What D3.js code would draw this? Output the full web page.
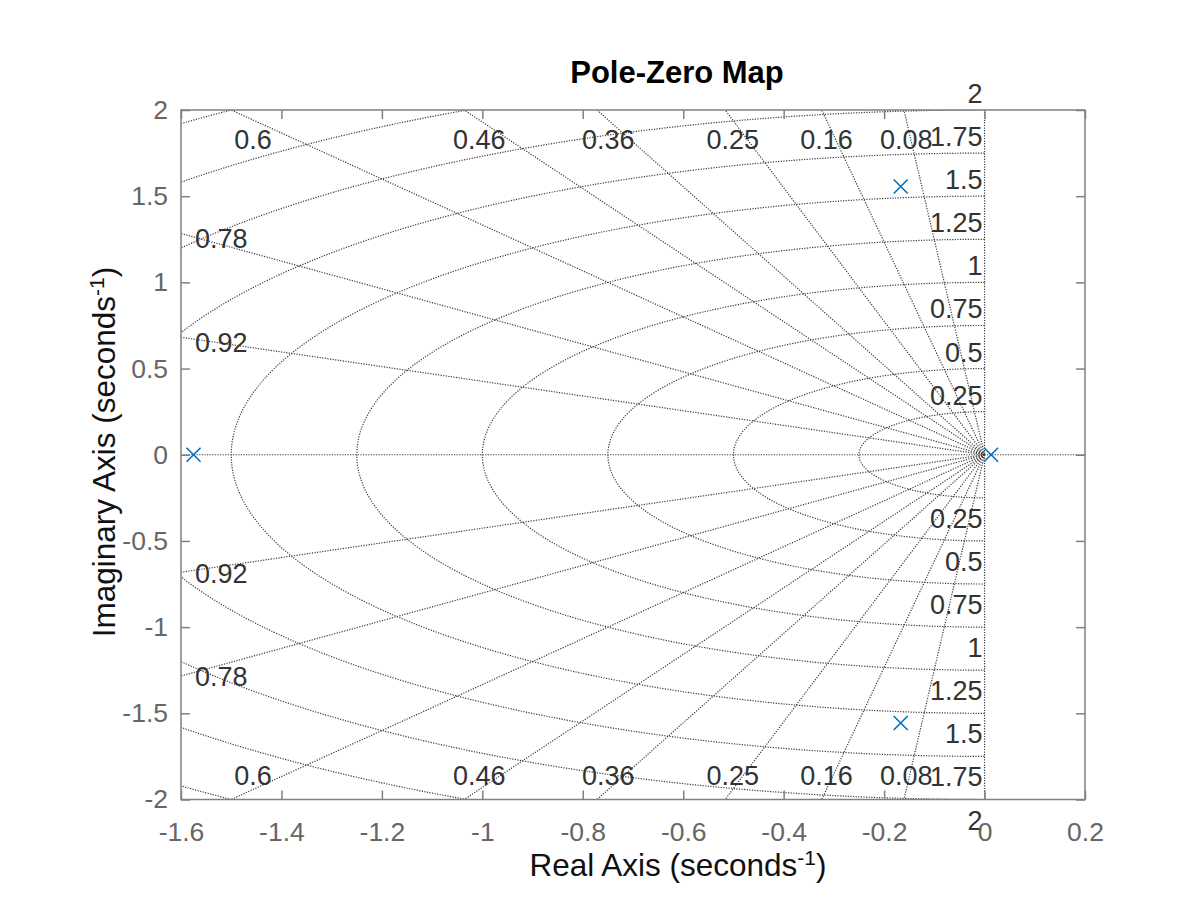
<!DOCTYPE html>
<html><head><meta charset="utf-8">
<script src="https://cdn.jsdelivr.net/npm/d3@7"></script>
<style>
body{margin:0;background:#fff}
svg{display:block}
text{font-family:"Liberation Sans",Arial,Helvetica,sans-serif}
</style>
</head><body>
<svg id="c" width="1200" height="900"></svg>
<script>
// ---- data ----
const zetaValues = [0.08, 0.16, 0.25, 0.36, 0.46, 0.6, 0.78, 0.92];
const zetaLabels = ["0.08", "0.16", "0.25", "0.36", "0.46", "0.6", "0.78", "0.92"];
const wnValues = [0.25, 0.5, 0.75, 1, 1.25, 1.5, 1.75, 2, 2.25, 2.5];
const wnLabelValues = [0.25, 0.5, 0.75, 1, 1.25, 1.5, 1.75, 2];
const wnLabels = ["0.25", "0.5", "0.75", "1", "1.25", "1.5", "1.75", "2"];
const poleRe = [-1.575, -0.167, -0.167, 0.013];
const poleIm = [0, 1.556, -1.556, 0];
const xTicks = [-1.6, -1.4, -1.2, -1, -0.8, -0.6, -0.4, -0.2, 0, 0.2];
const xTickLabels = ["-1.6", "-1.4", "-1.2", "-1", "-0.8", "-0.6", "-0.4", "-0.2", "0", "0.2"];
const yTicks = [-2, -1.5, -1, -0.5, 0, 0.5, 1, 1.5, 2];
const yTickLabels = ["-2", "-1.5", "-1", "-0.5", "0", "0.5", "1", "1.5", "2"];

// ---- layout ----
const L = 181, R = 1085, T = 110, B = 799.5;
const x = d3.scaleLinear().domain([-1.6, 0.2]).range([L, R]);
const y = d3.scaleLinear().domain([-2, 2]).range([B, T]);
const svg = d3.select("#c");

svg.append("defs").append("clipPath").attr("id", "clip")
  .append("rect").attr("x", L).attr("y", T).attr("width", R - L).attr("height", B - T);

const gridColor = "#3a3a3a";
const grid = svg.append("g").attr("clip-path", "url(#clip)")
  .attr("fill", "none").attr("stroke", gridColor).attr("stroke-width", 1.2)
  .attr("stroke-dasharray", "1.2,1.4");

const line = d3.line().x(d => x(d[0])).y(d => y(d[1]));

// real and imaginary axes
grid.append("path").attr("d", line([[-1.6, 0], [0.2, 0]]));
grid.append("path").attr("d", line([[0, -2], [0, 2]]));

// damping lines
zetaValues.forEach(z => {
  const s = Math.sqrt(1 - z * z);
  const Rr = 4;
  grid.append("path").attr("d", line([[0, 0], [-z * Rr, s * Rr]]));
  grid.append("path").attr("d", line([[0, 0], [-z * Rr, -s * Rr]]));
});

// natural frequency arcs
wnValues.forEach(w => {
  const pts = d3.range(0, 181).map(i => {
    const a = Math.PI / 2 + i * Math.PI / 180;
    return [w * Math.cos(a), w * Math.sin(a)];
  });
  grid.append("path").attr("d", line(pts));
});

// ---- grid labels ----
const gl = svg.append("g").attr("fill", "#333").attr("font-size", 27);
zetaValues.forEach((z, i) => {
  const s = Math.sqrt(1 - z * z);
  const yEdge = 1.6 * s / z; // y where line crosses x = -1.6
  if (yEdge > 2) {
    const yd = y.invert(T + 10);
    const xd = -yd * z / s;
    gl.append("text").attr("x", x(xd)).attr("y", T + 39).attr("text-anchor", "middle").text(zetaLabels[i]);
    gl.append("text").attr("x", x(xd)).attr("y", B - 15).attr("text-anchor", "middle").text(zetaLabels[i]);
  } else {
    gl.append("text").attr("x", L + 14).attr("y", y(yEdge) + 5.5).attr("dy", "0.35em").text(zetaLabels[i]);
    gl.append("text").attr("x", L + 14).attr("y", y(-yEdge) + 1).attr("dy", "0.35em").text(zetaLabels[i]);
  }
});
wnLabelValues.forEach((w, i) => {
  gl.append("text").attr("x", x(0) - 2).attr("y", y(w) - 7).attr("text-anchor", "end").text(wnLabels[i]);
  gl.append("text").attr("x", x(0) - 2).attr("y", y(-w) + 30).attr("text-anchor", "end").text(wnLabels[i]);
});

// ---- axes ----
const axColor = "#808080", tickText = "#666";
function styleAxis(g) {
  g.select(".domain").remove();
  g.selectAll(".tick line").attr("stroke", axColor).attr("stroke-width", 1.5);
  g.selectAll(".tick text").attr("fill", tickText).attr("font-size", 26.5)
    .attr("font-family", '"Liberation Sans",Arial,Helvetica,sans-serif');
}
svg.append("g").attr("transform", `translate(0,${B})`)
  .call(d3.axisBottom(x).tickValues(xTicks).tickFormat((d, i) => xTickLabels[i]).tickSizeInner(-9).tickSizeOuter(0).tickPadding(23))
  .call(styleAxis);
svg.append("g").attr("transform", `translate(0,${T})`)
  .call(d3.axisTop(x).tickValues(xTicks).tickFormat("").tickSizeInner(-9).tickSizeOuter(0))
  .call(styleAxis);
svg.append("g").attr("transform", `translate(${L},0)`)
  .call(d3.axisLeft(y).tickValues(yTicks).tickFormat((d, i) => yTickLabels[i]).tickSizeInner(-9).tickSizeOuter(0).tickPadding(13))
  .call(styleAxis);
svg.append("g").attr("transform", `translate(${R},0)`)
  .call(d3.axisRight(y).tickValues(yTicks).tickFormat("").tickSizeInner(-9).tickSizeOuter(0))
  .call(styleAxis);

svg.append("rect").attr("x", L).attr("y", T).attr("width", R - L).attr("height", B - T)
  .attr("fill", "none").attr("stroke", axColor).attr("stroke-width", 1.5);

// ---- poles ----
svg.append("g").selectAll("path").data(d3.range(poleRe.length)).join("path")
  .attr("transform", i => `translate(${x(poleRe[i])},${y(poleIm[i])})`)
  .attr("d", "M-7,-7L7,7M-7,7L7,-7")
  .attr("stroke", "#0072BD").attr("stroke-width", 1.6).attr("fill", "none");

// ---- titles ----
svg.append("text").attr("x", 677).attr("y", 83).attr("text-anchor", "middle")
  .attr("font-size", 31).attr("font-weight", "bold").attr("fill", "#000").text("Pole-Zero Map");

const xl = svg.append("text").attr("x", 678).attr("y", 876).attr("text-anchor", "middle")
  .attr("font-size", 31.5).attr("fill", "#111");
xl.append("tspan").text("Real Axis (seconds");
xl.append("tspan").attr("font-size", 21).attr("dy", -11).text("-1");
xl.append("tspan").attr("dy", 11).text(")");

const yl = svg.append("text").attr("transform", "translate(115,452) rotate(-90)").attr("text-anchor", "middle")
  .attr("font-size", 31.5).attr("fill", "#111");
yl.append("tspan").text("Imaginary Axis (seconds");
yl.append("tspan").attr("font-size", 21).attr("dy", -11).text("-1");
yl.append("tspan").attr("dy", 11).text(")");
</script>
</body></html>
